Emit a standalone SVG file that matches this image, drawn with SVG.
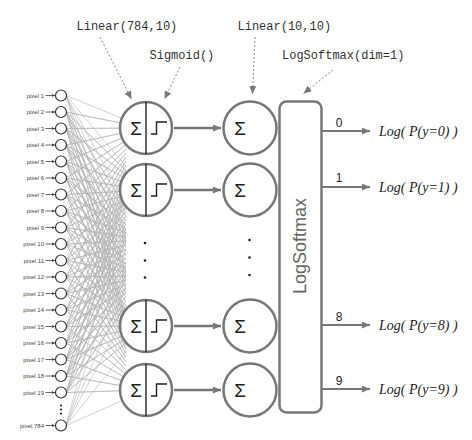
<svg xmlns="http://www.w3.org/2000/svg" width="472" height="440" viewBox="0 0 472 440">
<style>
.fan{fill:none;stroke:#b4b4b4;stroke-width:0.6}
.in{fill:#fff;stroke:#333;stroke-width:1.2}
.px{font-family:"Liberation Sans",Arial,sans-serif;font-size:6px;fill:#444;text-anchor:end}
.pa{stroke:#444;stroke-width:0.8}
.node{fill:#fff;stroke:#777;stroke-width:2.5}
.div{stroke:#222;stroke-width:1.4}
.step{fill:none;stroke:#222;stroke-width:1.4}
.sig{font-family:"Liberation Sans",Arial,sans-serif;font-size:19px;fill:#222;text-anchor:middle}
.conn{stroke:#777;stroke-width:2.5}
.oconn{stroke:#777;stroke-width:2}
.dash{stroke:#888;stroke-width:1;stroke-dasharray:2 2;fill:none}
.mono{font-family:"Liberation Mono","Courier New",monospace;font-size:12px;fill:#333}
.num{font-family:"Liberation Sans",Arial,sans-serif;font-size:12px;fill:#222;text-anchor:middle}
.log{font-family:"Liberation Serif","Times New Roman",serif;font-style:italic;font-size:14px;fill:#222}
.dot{fill:#222}
</style>
<defs>
<marker id="ah" viewBox="0 0 8 7" refX="8" refY="3.5" markerWidth="8" markerHeight="7" markerUnits="userSpaceOnUse" orient="auto"><path d="M0 0L8 3.5L0 7z" fill="#777"/></marker>
<marker id="ahd" viewBox="0 0 8 7" refX="8" refY="3.5" markerWidth="8" markerHeight="7" markerUnits="userSpaceOnUse" orient="auto"><path d="M0 0L8 3.5L0 7z" fill="#777"/></marker>
<marker id="ahs" viewBox="0 0 4 4" refX="4" refY="2" markerWidth="3.5" markerHeight="3.5" markerUnits="userSpaceOnUse" orient="auto"><path d="M0 0L4 2L0 4z" fill="#444"/></marker>
<clipPath id="fanclip">
<rect x="0" y="0" width="126" height="440"/>
<circle cx="146" cy="128" r="26"/>
<circle cx="146" cy="190" r="26"/>
<circle cx="146" cy="326" r="26"/>
<circle cx="146" cy="390" r="26"/>
</clipPath>
</defs>
<rect width="472" height="440" fill="#fff"/>
<g id="connectors">
<g clip-path="url(#fanclip)">
<path class="fan" d="M66 95.5 146 128 66 112 146 128 66 128.5 146 128 66 145 146 128 66 161.5 146 128 66 178 146 128 66 194.5 146 128 66 211 146 128 66 227.5 146 128 66 244 146 128 66 260.5 146 128 66 277 146 128 66 293.5 146 128 66 310 146 128 66 326.5 146 128 66 343 146 128 66 359.5 146 128 66 376 146 128 66 392.5 146 128 66 425.5"/>
<path class="fan" d="M66 95.5 146 190 66 112 146 190 66 128.5 146 190 66 145 146 190 66 161.5 146 190 66 178 146 190 66 194.5 146 190 66 211 146 190 66 227.5 146 190 66 244 146 190 66 260.5 146 190 66 277 146 190 66 293.5 146 190 66 310 146 190 66 326.5 146 190 66 343 146 190 66 359.5 146 190 66 376 146 190 66 392.5 146 190 66 425.5"/>
<path class="fan" d="M66 95.5 146 240 66 112 146 240 66 128.5 146 240 66 145 146 240 66 161.5 146 240 66 178 146 240 66 194.5 146 240 66 211 146 240 66 227.5 146 240 66 244 146 240 66 260.5 146 240 66 277 146 240 66 293.5 146 240 66 310 146 240 66 326.5 146 240 66 343 146 240 66 359.5 146 240 66 376 146 240 66 392.5 146 240 66 425.5"/>
<path class="fan" d="M66 95.5 146 276 66 112 146 276 66 128.5 146 276 66 145 146 276 66 161.5 146 276 66 178 146 276 66 194.5 146 276 66 211 146 276 66 227.5 146 276 66 244 146 276 66 260.5 146 276 66 277 146 276 66 293.5 146 276 66 310 146 276 66 326.5 146 276 66 343 146 276 66 359.5 146 276 66 376 146 276 66 392.5 146 276 66 425.5"/>
<path class="fan" d="M66 95.5 146 326 66 112 146 326 66 128.5 146 326 66 145 146 326 66 161.5 146 326 66 178 146 326 66 194.5 146 326 66 211 146 326 66 227.5 146 326 66 244 146 326 66 260.5 146 326 66 277 146 326 66 293.5 146 326 66 310 146 326 66 326.5 146 326 66 343 146 326 66 359.5 146 326 66 376 146 326 66 392.5 146 326 66 425.5"/>
<path class="fan" d="M66 95.5 146 390 66 112 146 390 66 128.5 146 390 66 145 146 390 66 161.5 146 390 66 178 146 390 66 194.5 146 390 66 211 146 390 66 227.5 146 390 66 244 146 390 66 260.5 146 390 66 277 146 390 66 293.5 146 390 66 310 146 390 66 326.5 146 390 66 343 146 390 66 359.5 146 390 66 376 146 390 66 392.5 146 390 66 425.5"/>
</g>
<g>
<line class="pa" x1="45.5" y1="95.5" x2="55" y2="95.5" marker-end="url(#ahs)"/>
<line class="pa" x1="45.5" y1="112" x2="55" y2="112" marker-end="url(#ahs)"/>
<line class="pa" x1="45.5" y1="128.5" x2="55" y2="128.5" marker-end="url(#ahs)"/>
<line class="pa" x1="45.5" y1="145" x2="55" y2="145" marker-end="url(#ahs)"/>
<line class="pa" x1="45.5" y1="161.5" x2="55" y2="161.5" marker-end="url(#ahs)"/>
<line class="pa" x1="45.5" y1="178" x2="55" y2="178" marker-end="url(#ahs)"/>
<line class="pa" x1="45.5" y1="194.5" x2="55" y2="194.5" marker-end="url(#ahs)"/>
<line class="pa" x1="45.5" y1="211" x2="55" y2="211" marker-end="url(#ahs)"/>
<line class="pa" x1="45.5" y1="227.5" x2="55" y2="227.5" marker-end="url(#ahs)"/>
<line class="pa" x1="45.5" y1="244" x2="55" y2="244" marker-end="url(#ahs)"/>
<line class="pa" x1="45.5" y1="260.5" x2="55" y2="260.5" marker-end="url(#ahs)"/>
<line class="pa" x1="45.5" y1="277" x2="55" y2="277" marker-end="url(#ahs)"/>
<line class="pa" x1="45.5" y1="293.5" x2="55" y2="293.5" marker-end="url(#ahs)"/>
<line class="pa" x1="45.5" y1="310" x2="55" y2="310" marker-end="url(#ahs)"/>
<line class="pa" x1="45.5" y1="326.5" x2="55" y2="326.5" marker-end="url(#ahs)"/>
<line class="pa" x1="45.5" y1="343" x2="55" y2="343" marker-end="url(#ahs)"/>
<line class="pa" x1="45.5" y1="359.5" x2="55" y2="359.5" marker-end="url(#ahs)"/>
<line class="pa" x1="45.5" y1="376" x2="55" y2="376" marker-end="url(#ahs)"/>
<line class="pa" x1="45.5" y1="392.5" x2="55" y2="392.5" marker-end="url(#ahs)"/>
<line class="pa" x1="45.5" y1="425.5" x2="55" y2="425.5" marker-end="url(#ahs)"/>
</g>
<line class="conn" x1="174" y1="128" x2="221" y2="128" marker-end="url(#ah)"/>
<line class="conn" x1="174" y1="190" x2="221" y2="190" marker-end="url(#ah)"/>
<line class="conn" x1="174" y1="326" x2="221" y2="326" marker-end="url(#ah)"/>
<line class="conn" x1="174" y1="390" x2="221" y2="390" marker-end="url(#ah)"/>
<line class="oconn" x1="322" y1="131" x2="370" y2="131" marker-end="url(#ah)"/>
<line class="oconn" x1="322" y1="187" x2="370" y2="187" marker-end="url(#ah)"/>
<line class="oconn" x1="322" y1="325" x2="370" y2="325" marker-end="url(#ah)"/>
<line class="oconn" x1="322" y1="389" x2="370" y2="389" marker-end="url(#ah)"/>
<line class="dash" x1="100" y1="37" x2="131.5" y2="99" marker-end="url(#ahd)"/>
<line class="dash" x1="180" y1="67" x2="164.5" y2="99" marker-end="url(#ahd)"/>
<line class="dash" x1="255" y1="37" x2="252.5" y2="94" marker-end="url(#ahd)"/>
<line class="dash" x1="333" y1="70" x2="303.5" y2="93.5" marker-end="url(#ahd)"/>
</g>
<g id="inputs">
<circle class="in" cx="61" cy="95.5" r="5.5"/><text class="px" x="44" y="97.5">pixel 1</text>
<circle class="in" cx="61" cy="112" r="5.5"/><text class="px" x="44" y="114">pixel 2</text>
<circle class="in" cx="61" cy="128.5" r="5.5"/><text class="px" x="44" y="130.5">pixel 3</text>
<circle class="in" cx="61" cy="145" r="5.5"/><text class="px" x="44" y="147">pixel 4</text>
<circle class="in" cx="61" cy="161.5" r="5.5"/><text class="px" x="44" y="163.5">pixel 5</text>
<circle class="in" cx="61" cy="178" r="5.5"/><text class="px" x="44" y="180">pixel 6</text>
<circle class="in" cx="61" cy="194.5" r="5.5"/><text class="px" x="44" y="196.5">pixel 7</text>
<circle class="in" cx="61" cy="211" r="5.5"/><text class="px" x="44" y="213">pixel 8</text>
<circle class="in" cx="61" cy="227.5" r="5.5"/><text class="px" x="44" y="229.5">pixel 9</text>
<circle class="in" cx="61" cy="244" r="5.5"/><text class="px" x="44" y="246">pixel 10</text>
<circle class="in" cx="61" cy="260.5" r="5.5"/><text class="px" x="44" y="262.5">pixel 11</text>
<circle class="in" cx="61" cy="277" r="5.5"/><text class="px" x="44" y="279">pixel 12</text>
<circle class="in" cx="61" cy="293.5" r="5.5"/><text class="px" x="44" y="295.5">pixel 13</text>
<circle class="in" cx="61" cy="310" r="5.5"/><text class="px" x="44" y="312">pixel 14</text>
<circle class="in" cx="61" cy="326.5" r="5.5"/><text class="px" x="44" y="328.5">pixel 15</text>
<circle class="in" cx="61" cy="343" r="5.5"/><text class="px" x="44" y="345">pixel 16</text>
<circle class="in" cx="61" cy="359.5" r="5.5"/><text class="px" x="44" y="361.5">pixel 17</text>
<circle class="in" cx="61" cy="376" r="5.5"/><text class="px" x="44" y="378">pixel 18</text>
<circle class="in" cx="61" cy="392.5" r="5.5"/><text class="px" x="44" y="394.5">pixel 19</text>
<circle class="dot" cx="61" cy="405.5" r="1.1"/><circle class="dot" cx="61" cy="409.5" r="1.1"/><circle class="dot" cx="61" cy="413.5" r="1.1"/>
<circle class="in" cx="61" cy="425.5" r="5.5"/><text class="px" x="44" y="427.5">pixel 784</text>
</g>
<g id="hidden1">
<circle class="node" cx="146" cy="128" r="26"/>
<line class="div" x1="146" y1="102" x2="146" y2="154"/>
<text class="sig" x="136" y="135">Σ</text>
<path class="step" d="M151 134H156.5V122H167"/>
</g>
<g id="hidden2">
<circle class="node" cx="146" cy="190" r="26"/>
<line class="div" x1="146" y1="164" x2="146" y2="216"/>
<text class="sig" x="136" y="197">Σ</text>
<path class="step" d="M151 196H156.5V184H167"/>
</g>
<g id="hidden-dots">
<circle class="dot" cx="145" cy="243" r="1.3"/><circle class="dot" cx="145" cy="260.5" r="1.3"/><circle class="dot" cx="145" cy="277.5" r="1.3"/>
</g>
<g id="hidden3">
<circle class="node" cx="146" cy="326" r="26"/>
<line class="div" x1="146" y1="300" x2="146" y2="352"/>
<text class="sig" x="136" y="333">Σ</text>
<path class="step" d="M151 332H156.5V320H167"/>
</g>
<g id="hidden4">
<circle class="node" cx="146" cy="390" r="26"/>
<line class="div" x1="146" y1="364" x2="146" y2="416"/>
<text class="sig" x="136" y="397">Σ</text>
<path class="step" d="M151 396H156.5V384H167"/>
</g>
<g id="out1"><circle class="node" cx="250" cy="128" r="26.5"/><text class="sig" x="240" y="135">Σ</text></g>
<g id="out2"><circle class="node" cx="250" cy="190" r="26.5"/><text class="sig" x="240" y="197">Σ</text></g>
<g id="out-dots"><circle class="dot" cx="249.5" cy="240" r="1.3"/><circle class="dot" cx="249.5" cy="257.5" r="1.3"/><circle class="dot" cx="249.5" cy="275" r="1.3"/></g>
<g id="out3"><circle class="node" cx="250" cy="326" r="26.5"/><text class="sig" x="240" y="333">Σ</text></g>
<g id="out4"><circle class="node" cx="250" cy="390" r="26.5"/><text class="sig" x="240" y="397">Σ</text></g>
<g id="logsoftmax">
<rect x="279.5" y="101.5" width="42" height="311" rx="7" fill="#fff" stroke="#777" stroke-width="2.5"/>
<text x="306" y="246" transform="rotate(-90 306 246)" text-anchor="middle" font-family="Liberation Sans,Arial,sans-serif" font-size="18" fill="#666">LogSoftmax</text>
</g>
<g id="labels">
<text class="mono" x="76.5" y="29.5">Linear(784,10)</text>
<text class="mono" x="149.5" y="59">Sigmoid()</text>
<text class="mono" x="237.5" y="29.5">Linear(10,10)</text>
<text class="mono" x="282" y="59">LogSoftmax(dim=1)</text>
<text class="num" x="339" y="126.5">0</text>
<text class="num" x="339" y="182">1</text>
<text class="num" x="339" y="321">8</text>
<text class="num" x="339" y="385">9</text>
<text class="log" x="379" y="136">Log( P(y=0) )</text>
<text class="log" x="379" y="192">Log( P(y=1) )</text>
<text class="log" x="379" y="330">Log( P(y=8) )</text>
<text class="log" x="379" y="394">Log( P(y=9) )</text>
</g>
</svg>
